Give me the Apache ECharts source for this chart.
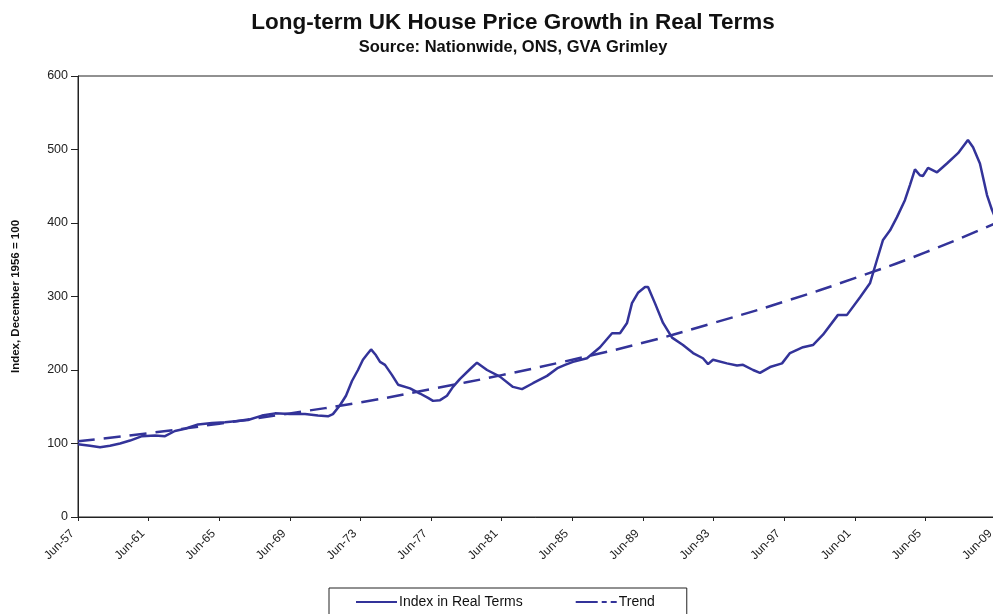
<!DOCTYPE html>
<html>
<head>
<meta charset="utf-8">
<title>Long-term UK House Price Growth in Real Terms</title>
<script src="https://cdn.jsdelivr.net/npm/echarts@6/dist/echarts.min.js"></script>
<style>
  html, body { margin: 0; padding: 0; background: #ffffff; }
  #chart { width: 993px; height: 614px; }
</style>
</head>
<body>
<div id="chart"></div>
<script>
// Real-terms house price index (December 1956 = 100), dates as decimal years
const indexDates = [
  1957.50, 1958.18, 1958.75, 1959.31, 1959.88, 1960.45, 1961.13, 1961.86, 1962.43, 1962.99,
  1963.56, 1964.30, 1965.09, 1965.83, 1967.13, 1967.92, 1968.66, 1969.51, 1970.36, 1971.09,
  1971.66, 1971.94, 1972.34, 1972.68, 1973.02, 1973.36, 1973.64, 1973.87, 1974.10, 1974.38,
  1974.61, 1974.89, 1975.29, 1975.63, 1976.31, 1976.87, 1977.33, 1977.61, 1978.01, 1978.40,
  1978.74, 1979.14, 1979.70, 1980.10, 1980.67, 1981.40, 1982.14, 1982.65, 1983.27, 1984.07,
  1984.69, 1985.09, 1985.54, 1986.33, 1987.07, 1987.75, 1988.20, 1988.60, 1988.88, 1989.22,
  1989.62, 1989.79, 1990.18, 1990.64, 1991.15, 1991.77, 1992.34, 1992.90, 1993.19, 1993.47,
  1994.26, 1994.83, 1995.17, 1995.74, 1996.13, 1996.70, 1997.38, 1997.83, 1998.57, 1999.13,
  1999.70, 2000.55, 2001.06, 2001.80, 2002.36, 2002.76, 2003.10, 2003.50, 2003.89, 2004.34,
  2004.63, 2004.91, 2005.19, 2005.36, 2005.65, 2006.16, 2006.72, 2007.35, 2007.91, 2008.20,
  2008.59, 2008.99, 2009.27, 2009.50
];
const indexValues = [
  99, 97, 95, 97, 100, 104, 110, 111, 110, 117,
  120, 126, 128, 129, 132, 138, 141, 140, 140, 138,
  137, 140, 152, 165, 185, 200, 214, 221, 228, 220,
  211, 207, 193, 180, 175, 168, 162, 158, 159, 165,
  177, 188, 201, 210, 200, 191, 177, 174, 182, 192,
  203, 207, 211, 216, 231, 250, 250, 264, 291, 305,
  313, 313, 291, 264, 244, 234, 223, 216, 208, 214,
  209, 206, 207, 200, 196, 204, 209, 223, 231, 234,
  248, 275, 275, 299, 318, 350, 377, 390, 408, 431,
  452, 473, 465, 464, 475, 469, 481, 495, 513, 503,
  481, 438, 418, 405
];

// Long-run trend, read every four years
const trendDates = [1957.5, 1961.5, 1965.5, 1969.5, 1973.5, 1977.5, 1981.5, 1985.5, 1989.5, 1993.5, 1997.5, 2001.5, 2005.5, 2009.5];
const trendValues = [103, 114, 127, 141, 156, 174, 193, 214, 237, 264, 293, 325, 360, 400];

// Axis ticks: x runs in years after June 1957, labelled every four years
const startYear = 1957.5;
const xTickLabels = ['Jun-57', 'Jun-61', 'Jun-65', 'Jun-69', 'Jun-73', 'Jun-77', 'Jun-81',
                     'Jun-85', 'Jun-89', 'Jun-93', 'Jun-97', 'Jun-01', 'Jun-05', 'Jun-09'];
const yTicks = [0, 100, 200, 300, 400, 500, 600];

const toPairs = (dates, vals) => dates.map((d, i) => [+(d - startYear).toFixed(3), vals[i]]);

const chart = echarts.init(document.getElementById('chart'));
const font = "'Liberation Sans', Arial, sans-serif";
const ink = '#333399';
const trendDash = [17, 9];

chart.setOption({
  animation: false,
  backgroundColor: '#ffffff',
  title: [
    {
      text: 'Long-term UK House Price Growth in Real Terms',
      left: 508,
      textAlign: 'center',
      top: 6,
      textStyle: { fontFamily: font, fontSize: 22.5, fontWeight: 'bold', color: '#111' }
    },
    {
      text: 'Source: Nationwide, ONS, GVA Grimley',
      left: 508,
      textAlign: 'center',
      top: 34,
      textStyle: { fontFamily: font, fontSize: 16.5, fontWeight: 'bold', color: '#111' }
    }
  ],
  grid: {
    left: 78,
    top: 76,
    width: 918,
    bottom: 97,
    outerBoundsMode: 'none',
    containLabel: false,
    show: true,
    borderColor: '#222',
    borderWidth: 1,
    backgroundColor: 'transparent'
  },
  legend: {
    left: 329,
    top: 588,
    padding: [7, 32, 14, 26],
    itemGap: 52,
    itemWidth: 41,
    itemHeight: 14,
    borderColor: '#222',
    borderWidth: 1,
    itemStyle: { color: 'transparent', borderWidth: 0 },
    textStyle: { fontFamily: font, fontSize: 14, color: '#111', padding: [0, 0, 0, -3] },
    data: [
      { name: 'Index in Real Terms', lineStyle: { type: 'solid' } },
      { name: 'Trend', lineStyle: { type: [22, 4, 5, 4] } }
    ]
  },
  xAxis: {
    type: 'value',
    min: 0,
    max: 52,
    interval: 4,
    axisLine: { show: true, lineStyle: { color: '#222', width: 1 } },
    axisTick: { show: true, length: 4, lineStyle: { color: '#222' } },
    splitLine: { show: false },
    axisLabel: {
      rotate: 45,
      margin: 9,
      padding: [0, 8, 0, 0],
      fontFamily: font,
      fontSize: 12,
      color: '#222',
      formatter: v => xTickLabels[Math.round(v / 4)] || ''
    }
  },
  yAxis: {
    type: 'value',
    min: yTicks[0],
    max: yTicks[yTicks.length - 1],
    interval: 100,
    name: 'Index, December 1956 = 100',
    nameLocation: 'middle',
    nameGap: 56,
    nameTextStyle: { fontFamily: font, fontSize: 11.5, fontWeight: 'bold', color: '#111' },
    axisLine: { show: true, lineStyle: { color: '#222', width: 1 } },
    axisTick: { show: true, length: 7, lineStyle: { color: '#222' } },
    splitLine: { show: false },
    axisLabel: { fontFamily: font, fontSize: 12.5, color: '#222', margin: 10 }
  },
  series: [
    {
      name: 'Index in Real Terms',
      type: 'line',
      data: toPairs(indexDates, indexValues),
      showSymbol: false,
      symbol: 'none',
      lineStyle: { color: ink, width: 2.5 },
      itemStyle: { color: ink }
    },
    {
      name: 'Trend',
      type: 'line',
      smooth: true,
      data: toPairs(trendDates, trendValues),
      showSymbol: false,
      symbol: 'none',
      lineStyle: { color: ink, width: 2.5, type: trendDash },
      itemStyle: { color: ink }
    }
  ]
});
</script>
</body>
</html>
